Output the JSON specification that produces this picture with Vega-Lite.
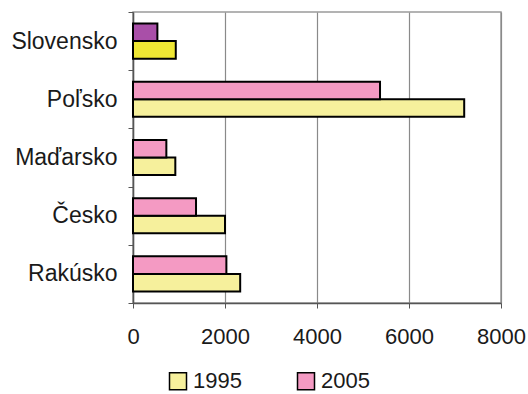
{
  "$schema": "https://vega.github.io/schema/vega-lite/v6.json",
  "width": 368,
  "height": 291,
  "autosize": {"type": "none"},
  "padding": {"left": 133, "top": 12, "right": 27, "bottom": 91},
  "background": "white",
  "config": {
    "font": "Liberation Sans",
    "view": {"stroke": "#9a9a9a", "strokeWidth": 1.5}
  },
  "data": {
    "values": [
      {"country": "Slovensko", "year": "1995", "value": 930},
      {"country": "Slovensko", "year": "2005", "value": 530},
      {"country": "Poľsko", "year": "1995", "value": 7200},
      {"country": "Poľsko", "year": "2005", "value": 5370},
      {"country": "Maďarsko", "year": "1995", "value": 920},
      {"country": "Maďarsko", "year": "2005", "value": 725},
      {"country": "Česko", "year": "1995", "value": 2000},
      {"country": "Česko", "year": "2005", "value": 1370},
      {"country": "Rakúsko", "year": "1995", "value": 2330},
      {"country": "Rakúsko", "year": "2005", "value": 2030}
    ]
  },
  "mark": {"type": "bar", "stroke": "black", "strokeWidth": 2},
  "encoding": {
    "y": {
      "field": "country",
      "type": "nominal",
      "sort": ["Slovensko", "Poľsko", "Maďarsko", "Česko", "Rakúsko"],
      "scale": {"paddingInner": 0, "paddingOuter": 0},
      "axis": {
        "title": null,
        "tickBand": "extent",
        "tickSize": 5,
        "tickColor": "#555555",
        "domainColor": "#555555",
        "domainWidth": 1.5,
        "labelFontSize": 23,
        "labelColor": "#1a1a1a",
        "labelPadding": 11,
        "grid": false
      }
    },
    "yOffset": {
      "field": "year",
      "type": "nominal",
      "scale": {"domain": ["2005", "1995"], "paddingInner": 0, "paddingOuter": 0.66}
    },
    "x": {
      "field": "value",
      "type": "quantitative",
      "scale": {"domain": [0, 8000], "nice": false},
      "axis": {
        "title": null,
        "values": [0, 2000, 4000, 6000, 8000],
        "format": "d",
        "grid": true,
        "gridColor": "#8a8a8a",
        "gridWidth": 1.2,
        "tickSize": 5,
        "tickColor": "#555555",
        "domainColor": "#555555",
        "domainWidth": 1.5,
        "labelFontSize": 22,
        "labelColor": "#1a1a1a",
        "labelPadding": 18,
        "labelFlush": false
      }
    },
    "color": {
      "condition": [
        {"test": "datum.country === 'Slovensko' && datum.year === '2005'", "value": "#a94fa8"},
        {"test": "datum.country === 'Slovensko' && datum.year === '1995'", "value": "#efe734"}
      ],
      "field": "year",
      "type": "nominal",
      "scale": {"domain": ["1995", "2005"], "range": ["#f6f09c", "#f49ac3"]},
      "legend": {
        "orient": "none",
        "legendX": 34,
        "legendY": 358,
        "direction": "horizontal",
        "title": null,
        "symbolType": "square",
        "symbolSize": 289,
        "symbolStrokeColor": "black",
        "symbolStrokeWidth": 1.5,
        "symbolOpacity": 1,
        "labelFontSize": 22,
        "labelColor": "#1a1a1a",
        "labelOffset": 4,
        "labelLimit": 200,
        "columnPadding": 52
      }
    }
  }
}
